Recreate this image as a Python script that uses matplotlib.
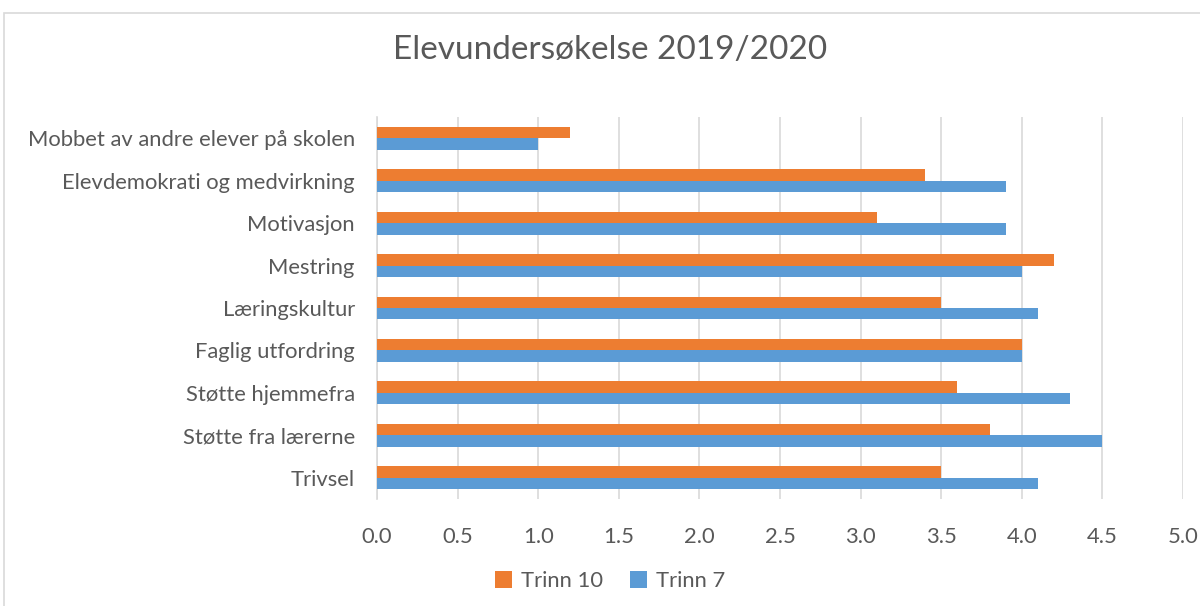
import matplotlib
matplotlib.use("Agg")
import matplotlib.pyplot as plt
from matplotlib.patches import Rectangle
import numpy as np

categories = ["Trivsel", "Støtte fra lærerne", "Støtte hjemmefra", "Faglig utfordring",
              "Læringskultur", "Mestring", "Motivasjon", "Elevdemokrati og medvirkning",
              "Mobbet av andre elever på skolen"]
trinn10 = [3.5, 3.8, 3.6, 4.0, 3.5, 4.2, 3.1, 3.4, 1.2]
trinn7 = [4.1, 4.5, 4.3, 4.0, 4.1, 4.0, 3.9, 3.9, 1.0]
xticks = [0.0, 0.5, 1.0, 1.5, 2.0, 2.5, 3.0, 3.5, 4.0, 4.5, 5.0]

plt.rcParams['font.family'] = ['Lato', 'DejaVu Sans']
txt = '#595959'
orange = '#ED7D31'
blue = '#5B9BD5'

fig = plt.figure(figsize=(12, 6.06), dpi=100)
ax = fig.add_axes([377/1200, 1-499/606, (1183-377)/1200, (499-117)/606])

y = np.arange(len(categories))
h = 0.27
ax.barh(y + h/2, trinn10, height=h, color=orange, label='Trinn 10', zorder=3)
ax.barh(y - h/2, trinn7, height=h, color=blue, label='Trinn 7', zorder=3)

ax.set_xlim(0, 5)
ax.set_ylim(-0.5, len(categories) - 0.5)
ax.set_xticks(xticks)
ax.set_xticklabels([f"{v:.1f}" for v in xticks], fontsize=15.8, color=txt)
ax.set_yticks(y)
ax.set_yticklabels(categories, fontsize=15.8, color=txt)
ax.tick_params(axis='both', length=0)
ax.tick_params(axis='x', pad=20)
ax.tick_params(axis='y', pad=16)
ax.grid(axis='x', color='#D9D9D9', linewidth=1.2, zorder=0)
for s in ['top', 'right', 'bottom']:
    ax.spines[s].set_visible(False)
ax.spines['left'].set_color('#D9D9D9')
ax.spines['left'].set_linewidth(1.2)

fig.text(610/1200, 1-50/606, "Elevundersøkelse 2019/2020", ha='center', va='center',
         fontsize=24, color=txt)

leg = fig.legend(loc='center', bbox_to_anchor=(610/1200, 1-581/606), ncol=2, frameon=False,
                 fontsize=15.8, handlelength=0.8, handleheight=0.8, handletextpad=0.4,
                 columnspacing=1.2, labelcolor=txt)

fig.patches.append(Rectangle((4/1200, -0.1), 1.2, 1-13/606 + 0.1, transform=fig.transFigure,
                             fill=False, edgecolor='#D9D9D9', linewidth=1.2))

fig.savefig("out.png", dpi=100)
